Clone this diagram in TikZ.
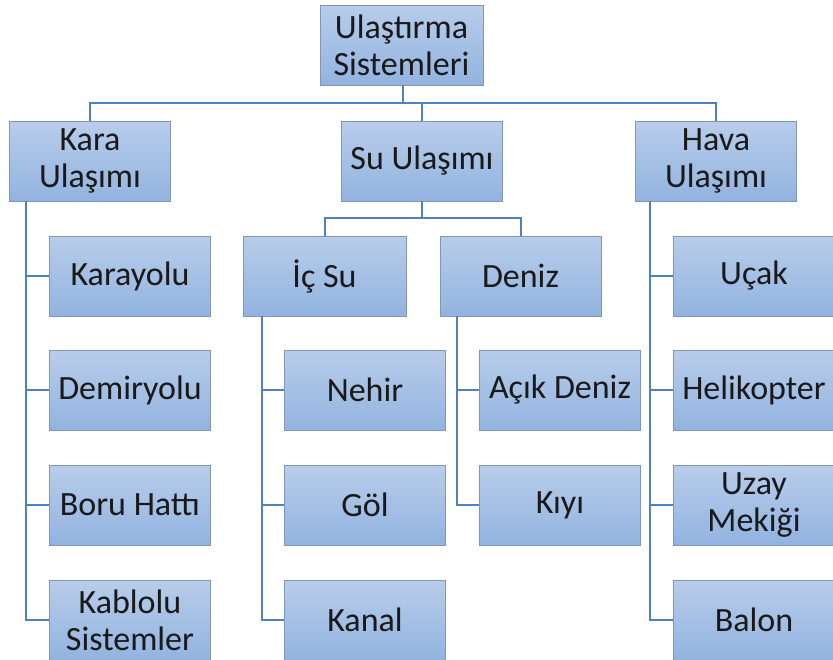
\documentclass[tikz,border=0pt]{standalone}
\usepackage{fontspec}
\setmainfont{Carlito}
\usepackage{tikz}

\definecolor{boxtop}{RGB}{184,205,234}
\definecolor{boxbot}{RGB}{146,179,224}
\definecolor{boxedge}{RGB}{128,150,180}
\definecolor{linkblue}{RGB}{79,129,189}

\tikzset{
  box/.style={shade, top color=boxtop, bottom color=boxbot, draw=boxedge,
    line width=0.8pt, minimum width=161pt, minimum height=80pt, inner sep=2pt,
    align=center, text=black!90, font=\fontsize{34}{37}\selectfont},
  link/.style={draw=linkblue, line width=2pt}
}

\begin{document}
\begin{tikzpicture}[x=1pt, y=-1pt]
  \useasboundingbox (0,0) rectangle (833,659);

  % ---------- top level ----------
  \node[box, minimum width=163pt] (root) at (401.5,45) {Ulaştırma\\Sistemleri};
  \node[box] (kara) at (90,161)  {Kara\\Ulaşımı};
  \node[box] (su)   at (422,161) {Su Ulaşımı};
  \node[box] (hava) at (716,161) {Hava\\Ulaşımı};

  % ---------- su: ic su / deniz ----------
  \node[box, minimum width=163pt] (icsu)  at (324.5,276) {İç Su};
  \node[box] (deniz) at (520.5,276) {Deniz};

  % ---------- kara children ----------
  \node[box] (karayolu)  at (130,276) {Karayolu};
  \node[box] (demiryolu) at (130,390) {Demiryolu};
  \node[box] (boru)      at (130,505) {Boru Hattı};
  \node[box] (kablolu)   at (130,620) {Kablolu\\Sistemler};

  % ---------- ic su / deniz children ----------
  \node[box] (nehir) at (365,390) {Nehir};
  \node[box] (gol)   at (365,505) {Göl};
  \node[box] (kanal) at (365,620) {Kanal};
  \node[box] (acik)  at (560,390) {Açık Deniz};
  \node[box] (kiyi)  at (560,505) {Kıyı};

  % ---------- hava children ----------
  \node[box] (ucak)  at (754,276) {Uçak};
  \node[box] (heli)  at (754,390) {Helikopter};
  \node[box] (uzay)  at (754,505) {Uzay\\Mekiği};
  \node[box] (balon) at (754,620) {Balon};

  % ---------- connectors ----------
  \coordinate (topbus) at (0,103);
  \coordinate (subus)  at (0,218);
  \draw[link] (kara.north) -- (kara.north |- topbus) -| (hava.north);
  \draw[link] ([xshift=1.5pt]root.south) -- ([xshift=1.5pt]root.south |- topbus);
  \draw[link] (su.north) -- (su.north |- topbus);

  \draw[link] (icsu.north) -- (icsu.north |- subus) -| (deniz.north);
  \draw[link] (su.south) -- (su.south |- subus);

  \foreach \c in {karayolu,demiryolu,boru,kablolu}
    \draw[link] ([xshift=17pt]kara.south west) |- (\c.west);
  \foreach \c in {nehir,gol,kanal}
    \draw[link] ([xshift=19pt]icsu.south west) |- (\c.west);
  \foreach \c in {acik,kiyi}
    \draw[link] ([xshift=17pt]deniz.south west) |- (\c.west);
  \foreach \c in {ucak,heli,uzay,balon}
    \draw[link] ([xshift=15pt]hava.south west) |- (\c.west);

\end{tikzpicture}
\end{document}
